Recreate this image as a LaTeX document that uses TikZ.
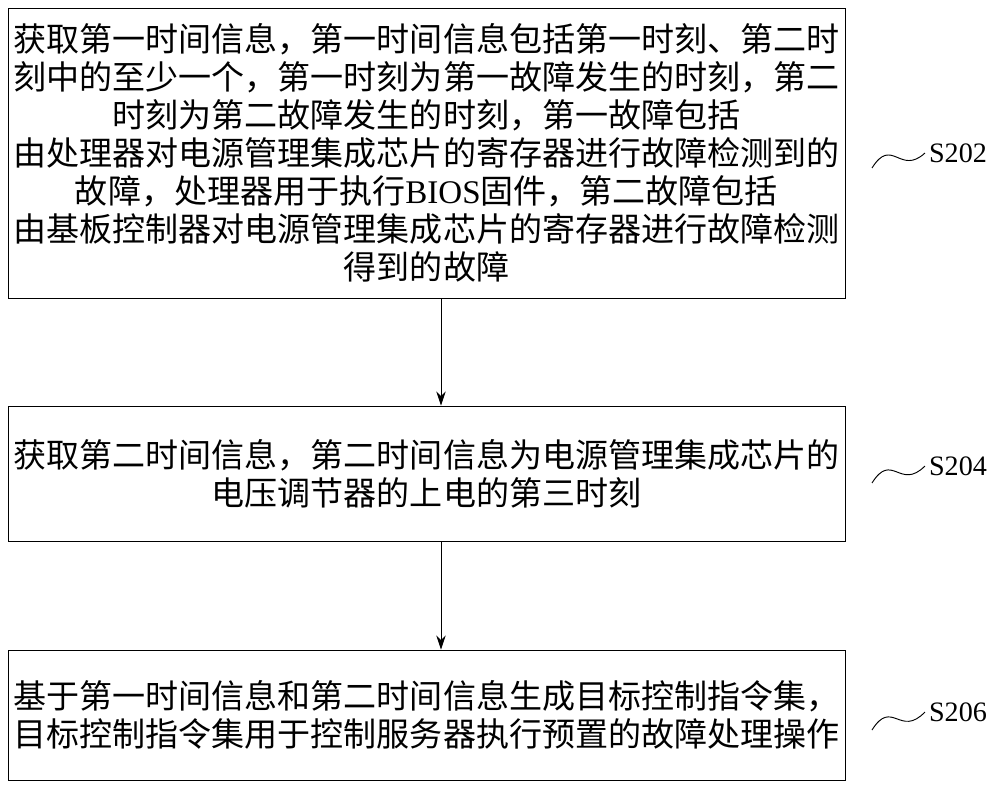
\documentclass[tikz,border=0pt]{standalone}
\usepackage{fontspec}
\setmainfont{Liberation Serif}
\newfontfamily\cjk{Noto Sans CJK SC}
\usetikzlibrary{arrows.meta}
\begin{document}
\begin{tikzpicture}[x=0.03cm,y=-0.03cm,
  stepbox/.style={draw,line width=0.8pt,align=center,font=\cjk\fontsize{28.2}{32.4}\selectfont,inner sep=0pt},
  lbl/.style={font=\fontsize{24}{26}\selectfont},
  arr/.style={-{Stealth[length=12pt,width=8pt]},line width=0.8pt},
  wave/.style={line width=0.8pt}]
\useasboundingbox (0,0) rectangle (1000,787);
\node[stepbox,minimum width=837*0.03cm,minimum height=290*0.03cm] (b1) at (426.5,153) {获取第一时间信息，第一时间信息包括第一时刻、第二时\\刻中的至少一个，第一时刻为第一故障发生的时刻，第二\\时刻为第二故障发生的时刻，第一故障包括\\由处理器对电源管理集成芯片的寄存器进行故障检测到的\\故障，处理器用于执行{\rmfamily BIOS}固件，第二故障包括\\由基板控制器对电源管理集成芯片的寄存器进行故障检测\\得到的故障};
\node[stepbox,minimum width=837*0.03cm,minimum height=135*0.03cm] (b2) at (426.5,473.5) {获取第二时间信息，第二时间信息为电源管理集成芯片的\\电压调节器的上电的第三时刻};
\node[stepbox,minimum width=837*0.03cm,minimum height=130*0.03cm] (b3) at (426.5,715) {基于第一时间信息和第二时间信息生成目标控制指令集，\\目标控制指令集用于控制服务器执行预置的故障处理操作};
\draw[arr] (b1.south -| 441,0) -- (b2.north -| 441,0);
\draw[arr] (b2.south -| 441,0) -- (b3.north -| 441,0);
\node[lbl] (l1) at (958,153) {S202};
\node[lbl] (l2) at (958,466) {S204};
\node[lbl] (l3) at (958,712) {S206};
\coordinate (w1) at (872,168);
\coordinate (w2) at (872,483);
\coordinate (w3) at (872,730);
\draw[wave] (w1) .. controls (892,136) and (900,176) .. (l1.west);
\draw[wave] (w2) .. controls (892,451) and (900,491) .. (l2.west);
\draw[wave] (w3) .. controls (892,698) and (900,738) .. (l3.west);
\end{tikzpicture}
\end{document}
